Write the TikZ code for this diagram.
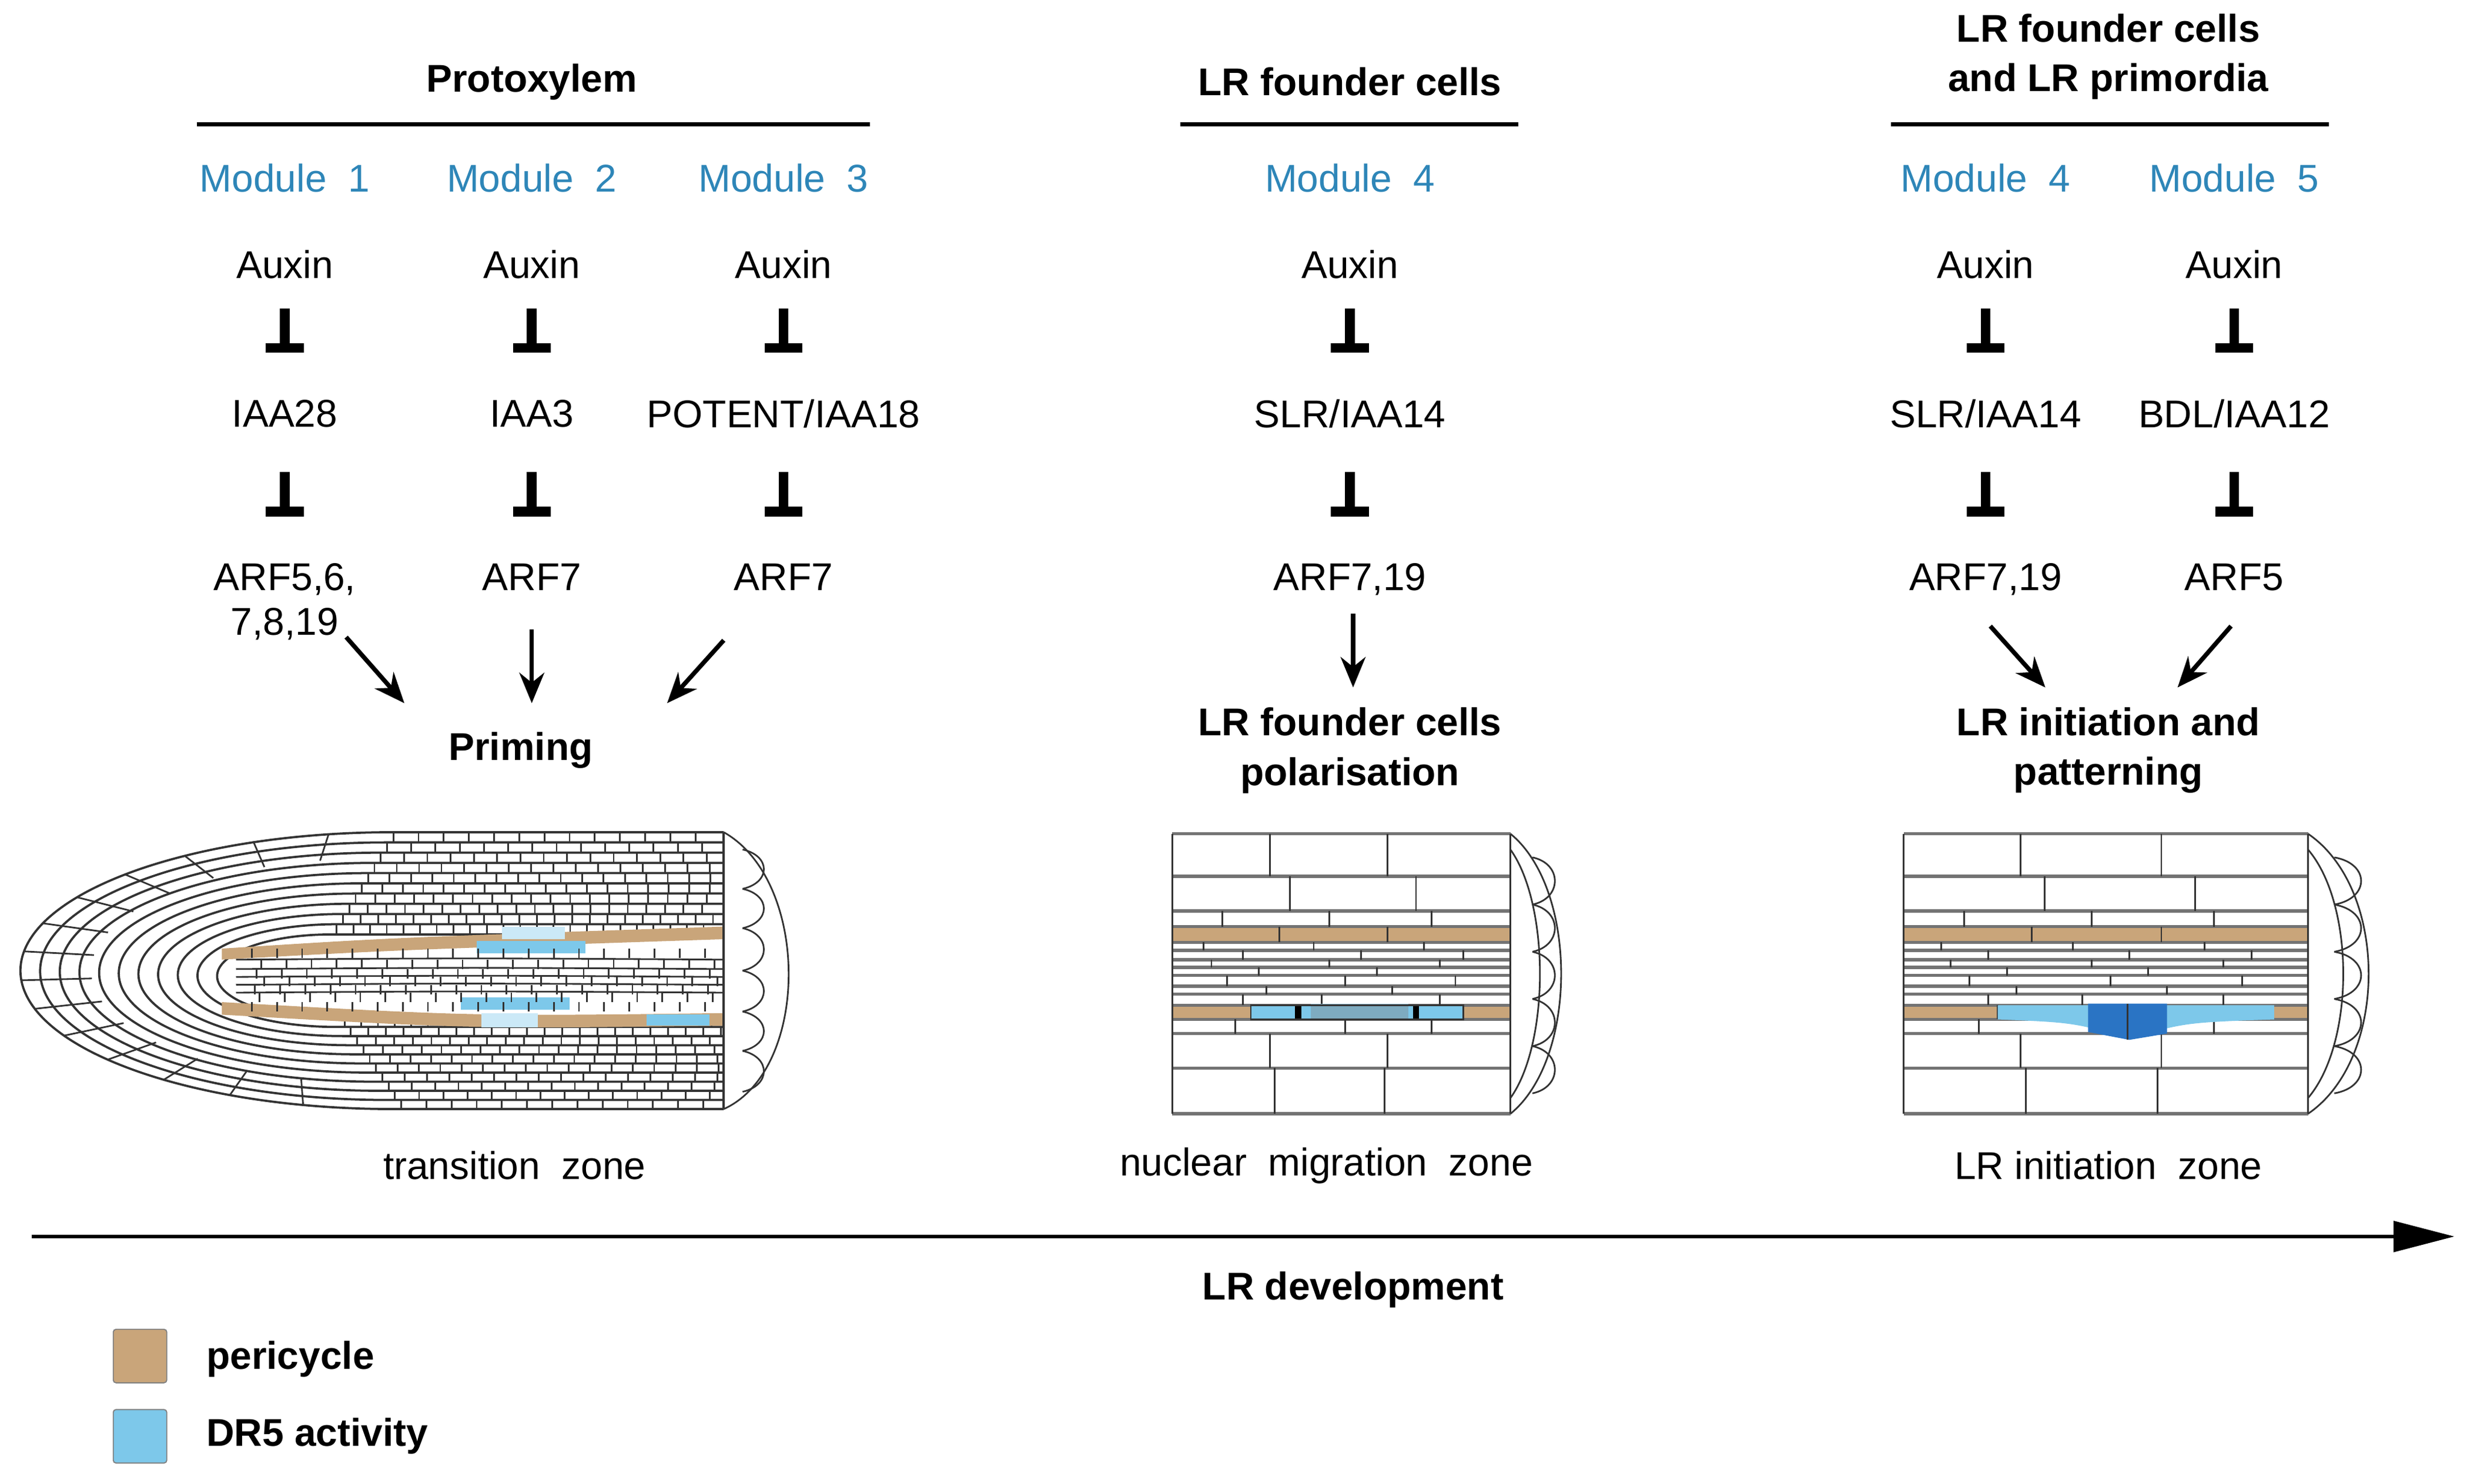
\documentclass[tikz,border=0pt]{standalone}
\usepackage{fontspec}
\setmainfont{Liberation Sans}
\usetikzlibrary{arrows.meta}
\definecolor{peri}{HTML}{C9A57A}
\definecolor{dr}{HTML}{7DC8EA}
\definecolor{drd}{HTML}{2A74C4}
\definecolor{modc}{HTML}{2E86B8}
\newcommand{\slh}{/}
\tikzset{
 t/.style={font=\fontsize{14}{16}\selectfont,align=center},
 tb/.style={t,font=\fontsize{14}{18}\selectfont\bfseries},
 mod/.style={t,text=modc},
 inh/.style={line width=3.5pt,-{Bar[width=24*0.02cm,line width=3.5pt]},shorten >=1pt},
 act/.style={line width=1.6pt,-{Stealth[length=11pt,width=9pt]}},
 wall/.style={line width=0.6pt,black!80},
 hwall/.style={line width=1.2pt,black!55},
}
\newcommand{\rootsec}[1]{%
 \begin{scope}[#1]
  \fill[peri] (0,589) rectangle (215,599);
  \fill[peri] (0,639) rectangle (215,648);
  \foreach \y in {530,557,579,589,599,604,610,615,620,627,632,639,648,657,679,708}
    \draw[hwall] (0,\y) -- (215,\y);
  \draw[wall] (0,530) -- (0,708) (215,530) -- (215,708);
  \foreach \a/\b/\xs in {530/557/{62,137},557/579/{75,155},579/589/{32,100,165},589/599/{68,137},599/604/{20,90,160},604/610/{45,120,185},610/615/{25,100,170},615/620/{55,130},620/627/{35,110,180},627/632/{60,140},632/639/{45,95,170},639/648/{50,135},648/657/{40,110,165},657/679/{62,137},679/708/{65,135}}
    \foreach \x in \xs \draw[wall] (\x,\a) -- (\x,\b);
  \draw[wall] (215,530) .. controls (258,565) and (258,673) .. (215,708);
  \draw[wall] (215,540) .. controls (240,575) and (240,663) .. (215,698);
  \foreach \a/\b in {545/575,575/605,605/635,635/665,665/695}
    \draw[wall] (229,\a) .. controls (248,\a+4) and (248,\b-4) .. (229,\b);
 \end{scope}}
\begin{document}
\begin{tikzpicture}[x=0.02cm,y=-0.02cm]
\useasboundingbox (0,0) rectangle (1568,943);
% headings
\node[tb] (h1) at (338,52) {Protoxylem};
\draw[line width=1.3pt] (125,79) -- (553,79);
\node[tb] (h2) at (858,52) {LR founder cells};
\draw[line width=1.3pt] (750,79) -- (965,79);
\node[tb] (h3) at (1340,36) {LR founder cells\\and LR primordia};
\draw[line width=1.3pt] (1202,79) -- (1480,79);
% modules
\foreach \n/\x/\m/\r/\a in {1/181/Module\ \ 1/IAA28/{ARF5,6,\\7,8,19},2/338/Module\ \ 2/IAA3/ARF7,3/498/Module\ \ 3/POTENT\slh IAA18/ARF7,4/858/Module\ \ 4/SLR\slh IAA14/{ARF7,19},5/1262/Module\ \ 4/SLR\slh IAA14/{ARF7,19},6/1420/Module\ \ 5/BDL\slh IAA12/ARF5}{
 \node[mod] (m\n) at (\x,113) {\m};
 \node[t] (ax\n) at (\x,168) {Auxin};
 \node[t] (ia\n) at (\x,263) {\r};
 \node[t,anchor=north] (ar\n) at (\x,352) {\a};
 \draw[inh] (\x,196) -- (\x,226);
 \draw[inh] (\x,300) -- (\x,330);
}
\node[tb] (pr) at (331,477) {Priming};
\node[tb] (pol) at (858,477) {LR founder cells\\polarisation};
\node[tb] (ini) at (1340,477) {LR initiation and\\patterning};
\coordinate (a1s) at (220,405); \coordinate (a1e) at (257,447);
\coordinate (a2s) at (338,400); \coordinate (a2e) at (338,447);
\coordinate (a3s) at (460,407); \coordinate (a3e) at (424,447);
\coordinate (a4s) at (860,390); \coordinate (a4e) at (860,437);
\coordinate (a5s) at (1265,398); \coordinate (a5e) at (1300,437);
\coordinate (a6s) at (1418,398); \coordinate (a6e) at (1384,437);
\foreach \i in {1,...,6} \draw[act] (a\i s) -- (a\i e);
% long root tip
\foreach \k in {0,...,10}{
  \pgfmathsetmacro\tp{529+\k*6.5}
  \pgfmathsetmacro\bt{705-\k*5.8}
  \pgfmathsetmacro\lf{13+\k*12.5}
  \pgfmathsetmacro\cx{250-\k*4}
  \pgfmathsetmacro\rx{\cx-\lf}
  \pgfmathsetmacro\ry{(\bt-\tp)/2}
  \draw[wall,line width=0.8pt] (460,\tp) -- (\cx,\tp) arc[start angle=-90,end angle=-270,x radius=\rx,y radius=\ry] -- (460,\bt);
}
\foreach \a in {-100,-112,...,-260}
  \draw[wall] ({250+237*cos(\a)},{617+88*sin(\a)}) -- ({234+176*cos(\a)},{617+71*sin(\a)});
\foreach \k in {0,...,9}{
  \pgfmathsetmacro\tp{529+\k*6.5}
  \pgfmathsetmacro\tn{529+(\k+1)*6.5}
  \pgfmathsetmacro\bt{705-\k*5.8}
  \pgfmathsetmacro\bn{705-(\k+1)*5.8}
  \pgfmathsetmacro\cx{250-\k*4}
  \pgfmathsetmacro\st{16-\k*0.6}
  \pgfmathsetmacro\cxb{\cx+\st}
  \foreach \x in {\cx,\cxb,...,455}{
    \draw[wall] (\x,\tp) -- (\x,\tn);
    \draw[wall] (\x+5,\bt) -- (\x+5,\bn);
  }
}
% vascular
\fill[peri] (141,603) .. controls (250,596) .. (460,589) -- (460,597) .. controls (250,604) .. (141,610) -- cycle;
\fill[peri] (141,637) .. controls (300,646) .. (460,644) -- (460,652) .. controls (300,654) .. (141,645) -- cycle;
\fill[dr] (303,598) rectangle (372,606);
\fill[dr!40] (319,589) rectangle (359,597);
\fill[dr] (293,634) rectangle (362,642);
\fill[dr!40] (306,644) rectangle (342,653);
\fill[dr] (411,645) rectangle (451,652);
\foreach \y in {610,616,621,626,631}
  \draw[wall] (150,\y) .. controls (300,\y-1) .. (460,\y);
\foreach \y/\o in {603/0,610/6,616/3,621/8,626/2,631/5,637/0}
  \foreach \x in {160,176,...,450} \draw[wall] (\x+\o,\y) -- (\x+\o,\y+6);
\draw[wall,line width=0.9pt] (460,529) -- (460,705);
\draw[wall] (460,529) .. controls (515,560) and (515,680) .. (460,705);
\foreach \a/\b in {540/565,565/590,590/617,617/643,643/668,668/694}
  \draw[wall] (472,\a) .. controls (490,\a+4) and (490,\b-4) .. (472,\b);
% sections
\rootsec{xshift=745*0.02cm}
\begin{scope}[xshift=745*0.02cm]
 \fill[dr] (50,639) rectangle (185,648);
 \fill[dr!60!gray] (88,638) rectangle (150,648);
 \fill[black] (78,639) rectangle (82,648);
 \fill[black] (153,639) rectangle (157,648);
 \draw[wall] (50,639) rectangle (185,648);
\end{scope}
\rootsec{xshift=1210*0.02cm,xscale=1.195}
\begin{scope}[xshift=1210*0.02cm,xscale=1.195]
 \fill[dr] (50,639) -- (197,639) -- (197,648) .. controls (150,650) .. (120,660) .. controls (90,650) .. (50,648) -- cycle;
 \fill[drd] (98,638) -- (140,638) -- (140,657) -- (120,661) -- (98,656) -- cycle;
 \draw[wall] (119,638) -- (119,661);
\end{scope}
% labels
\node[t] (z1) at (327,741) {transition\ \ zone};
\node[t] (z2) at (843,741) {nuclear\ \ migration\ \ zone};
\node[t] (z3) at (1340,741) {LR\ initiation\ \ zone};
\coordinate (xs) at (20,786); \coordinate (xe) at (1560,786);
\draw[line width=1.4pt,-{Triangle[length=22pt,width=11pt]}] (xs) -- (xe);
\node[tb] (dev) at (860,820) {LR development};
% legend
\node[draw=gray,fill=peri,minimum size=34*0.02cm,inner sep=0pt,rounded corners=1pt] (l1) at (89,862) {};
\node[tb,anchor=west] at (125,864) {pericycle};
\node[draw=gray,fill=dr,minimum size=34*0.02cm,inner sep=0pt,rounded corners=1pt] (l2) at (89,913) {};
\node[tb,anchor=west] at (125,913) {DR5 activity};
\end{tikzpicture}
\end{document}
